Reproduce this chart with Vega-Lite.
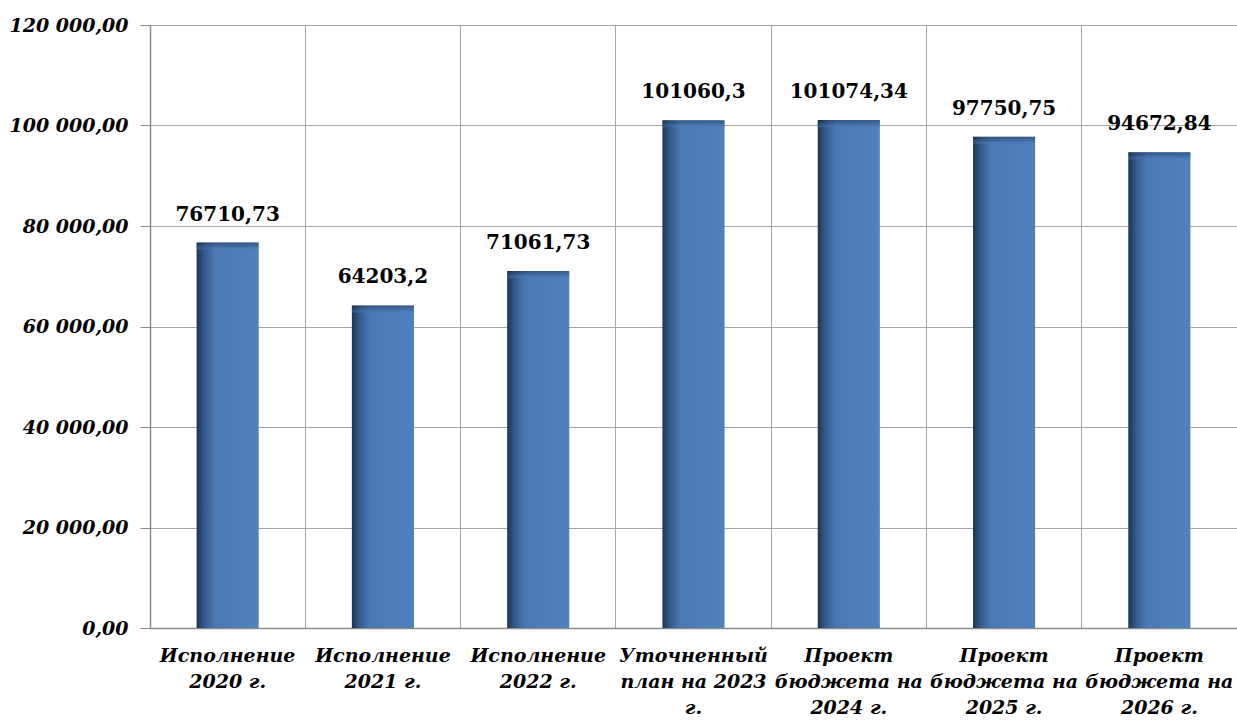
{
  "$schema": "https://vega.github.io/schema/vega-lite/v6.json",
  "width": 1087,
  "height": 603,
  "autosize": "none",
  "padding": {"left": 150, "top": 25, "right": 0, "bottom": 94},
  "background": "white",
  "config": {
    "locale": {"number": {"decimal": ",", "thousands": " ", "grouping": [3], "currency": ["", ""]}},
    "view": {"stroke": null},
    "font": "DejaVu Serif"
  },
  "data": {
    "values": [
      {"cat": "Исполнение\n2020 г.", "value": 76710.73},
      {"cat": "Исполнение\n2021 г.", "value": 64203.2},
      {"cat": "Исполнение\n2022 г.", "value": 71061.73},
      {"cat": "Уточненный\nплан на 2023\nг.", "value": 101060.3},
      {"cat": "Проект\nбюджета на\n2024 г.", "value": 101074.34},
      {"cat": "Проект\nбюджета на\n2025 г.", "value": 97750.75},
      {"cat": "Проект\nбюджета на\n2026 г.", "value": 94672.84}
    ]
  },
  "encoding": {
    "x": {
      "field": "cat", "type": "nominal", "sort": null,
      "scale": {"paddingInner": 0, "paddingOuter": 0},
      "axis": {
        "title": null, "labelAngle": 0, "ticks": false,
        "labelExpr": "split(datum.label, '\\n')",
        "labelFont": "DejaVu Serif", "labelFontSize": 19, "labelFontWeight": "bold", "labelFontStyle": "italic",
        "labelColor": "black", "labelLineHeight": 26, "labelPadding": 18, "labelLimit": 0,
        "grid": true, "bandPosition": 0, "gridColor": "#a6a6a6", "gridWidth": 1,
        "domainColor": "#8c8c8c", "domainWidth": 1.5
      }
    },
    "y": {
      "field": "value", "type": "quantitative",
      "scale": {"domain": [0, 120000], "nice": false},
      "axis": {
        "title": null, "values": [0, 20000, 40000, 60000, 80000, 100000, 120000],
        "format": ",.2f",
        "labelFont": "DejaVu Serif", "labelFontSize": 19, "labelFontWeight": "bold", "labelFontStyle": "italic",
        "labelColor": "black", "labelPadding": 12, "tickSize": 10, "tickColor": "#8c8c8c",
        "gridColor": "#a6a6a6", "domainColor": "#8c8c8c", "domainWidth": 1.5
      }
    }
  },
  "layer": [
    {
      "mark": {
        "type": "bar", "width": {"band": 0.4},
        "fill": {
          "gradient": "linear", "x1": 0, "x2": 1, "y1": 0, "y2": 0,
          "stops": [
            {"offset": 0, "color": "#1e3450"},
            {"offset": 0.12, "color": "#34598a"},
            {"offset": 0.3, "color": "#4a7ab6"},
            {"offset": 1, "color": "#4f81bd"}
          ]
        }
      }
    },
    {
      "mark": {
        "type": "tick", "thickness": 7, "size": 62, "yOffset": 3.5, "opacity": 0.45,
        "color": {
          "gradient": "linear", "x1": 0, "x2": 0, "y1": 0, "y2": 1,
          "stops": [
            {"offset": 0, "color": "#16263d"},
            {"offset": 1, "color": "#4f81bd"}
          ]
        }
      }
    },
    {
      "mark": {
        "type": "text", "baseline": "bottom", "dy": -18,
        "font": "DejaVu Serif", "fontSize": 20, "fontWeight": "bold", "color": "black"
      },
      "encoding": {"text": {"field": "value", "type": "quantitative", "format": "~f"}}
    }
  ]
}
